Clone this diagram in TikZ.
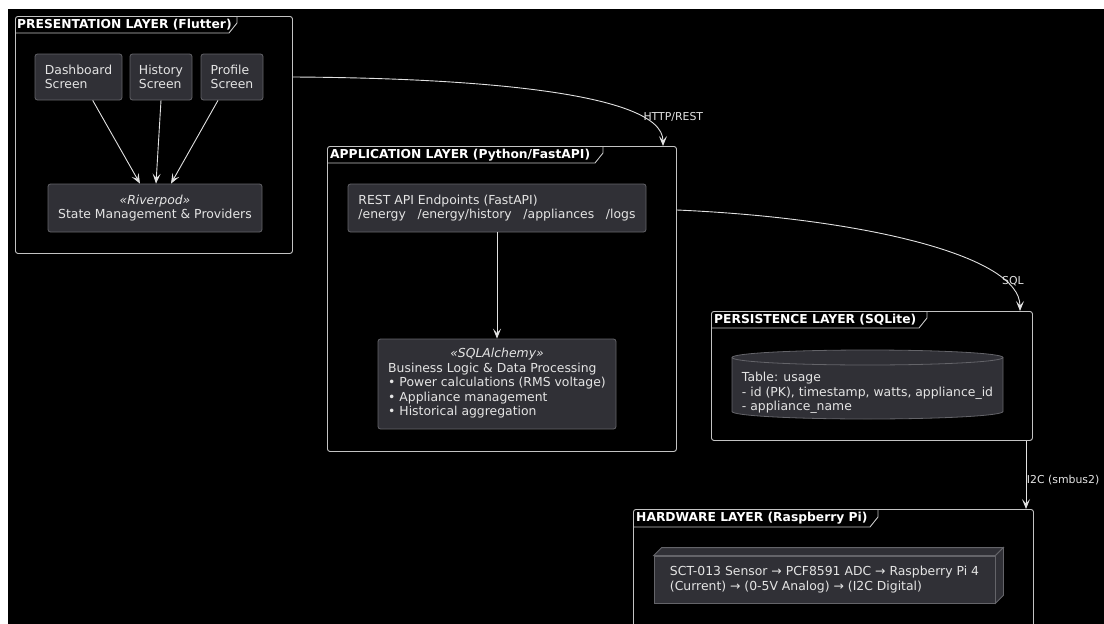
\documentclass[tikz,border=0pt]{standalone}
\usepackage{fontspec}
\setmainfont{DejaVu Sans}
\usetikzlibrary{arrows.meta,calc}
\definecolor{boxfill}{RGB}{48,48,54}
\definecolor{boxline}{RGB}{100,100,105}
\definecolor{frameline}{RGB}{195,195,195}
\definecolor{txt}{RGB}{228,228,228}
\definecolor{edge}{RGB}{225,225,225}
\begin{document}
\begin{tikzpicture}[x=1pt,y=-1pt,
  base/.style={font=\fontsize{12.4}{14.5}\selectfont, text=txt},
  comp/.style={base, draw=boxline, fill=boxfill, rounded corners=2.5pt, line width=0.8pt, inner sep=0pt, align=left},
  frame/.style={draw=frameline, rounded corners=2.5pt, line width=0.9pt, anchor=north west, inner sep=0pt},
  tab/.style={draw=frameline, line width=0.9pt},
  ftitle/.style={font=\bfseries\fontsize{12.3}{14.5}\selectfont, text=white, anchor=west, inner sep=0pt},
  link/.style={draw=edge, line width=0.9pt, -{Stealth[length=10pt,width=8pt,inset=4.5pt]}},
  elabel/.style={font=\fontsize{10.9}{13}\selectfont, text=txt, inner sep=0pt, anchor=west},
  solid3d/.style={fill=boxfill, draw=boxline, line width=0.8pt}
]
\clip (0,0) rectangle (1104,624);
\fill[white] (0,0) rectangle (1104,624);
\fill[black] (8,9) rectangle (1104,624);

% frames
\node[frame, minimum width=277, minimum height=237] (pres) at (15,16) {};
\draw[tab] (15,33) -- (229,33) -- (237,23) -- (237,16);
\node[ftitle] (presT) at (17,24.5) {PRESENTATION LAYER (Flutter)};

\node[frame, minimum width=349, minimum height=305] (app) at (327,146) {};
\draw[tab] (327,163) -- (595,163) -- (603,153) -- (603,146);
\node[ftitle] (appT) at (330,155) {APPLICATION LAYER (Python/FastAPI)};

\node[frame, minimum width=321, minimum height=129] (pers) at (711,311) {};
\draw[tab] (711,328) -- (919,328) -- (927,318) -- (927,311);
\node[ftitle] (persT) at (714,320) {PERSISTENCE LAYER (SQLite)};

\node[frame, minimum width=400, minimum height=140] (hw) at (633,509) {};
\draw[tab] (633,527) -- (870,527) -- (878,517) -- (878,509);
\node[ftitle] (hwT) at (636,518) {HARDWARE LAYER (Raspberry Pi)};

% presentation components
\node[comp, minimum width=87, minimum height=46] (dash) at (78.5,77) {Dashboard\\Screen};
\node[comp, minimum width=62, minimum height=46] (hist) at (161,77) {History\\Screen};
\node[comp, minimum width=62, minimum height=46] (prof) at (232,77) {Profile\\Screen};
\node[comp, align=center, minimum width=214, minimum height=48] (state) at (155,208) {{\itshape «Riverpod»}\\State Management \& Providers};

\draw[link] ($(dash.south)+(14.2,0)$) -- ($(state.north)+(-15,0)$);
\draw[link] (hist.south) -- ($(state.north)+(1,0)$);
\draw[link] ($(prof.south)+(-14,0)$) -- ($(state.north)+(16,0)$);

% application components
\node[comp, minimum width=298, minimum height=48] (rest) at (497,208) {REST API Endpoints (FastAPI)\\/energy\hspace{11.7pt}/energy/history\hspace{11.7pt}/appliances\hspace{11.7pt}/logs};
\node[comp, minimum width=238, minimum height=90] (biz) at (497,384) {\begin{tabular}{@{}l@{}}\multicolumn{1}{@{}c@{}}{\itshape «SQLAlchemy»}\\Business Logic \& Data Processing\\• Power calculations (RMS voltage)\\• Appliance management\\• Historical aggregation\end{tabular}};
\draw[link] (rest.south) -- (biz.north);

% persistence: database cylinder
\filldraw[solid3d] (732,357.5) -- (732,411.5) arc[start angle=180, end angle=360, x radius=135.5pt, y radius=7.5pt] -- (1003,357.5) arc[start angle=0, end angle=180, x radius=135.5pt, y radius=7.5pt] -- cycle;
\draw[boxline, line width=0.8pt] (732,357.5) arc[start angle=180, end angle=360, x radius=135.5pt, y radius=7.5pt];
\node[base, align=left, inner sep=0pt] (db) at (867.5,393) {Table: usage\\- id (PK), timestamp, watts, appliance\_id\\- appliance\_name};

% hardware: 3D node
\node[comp, rounded corners=0pt, minimum width=341, minimum height=47] (sensor) at (824.5,579.5) {SCT-013 Sensor → PCF8591 ADC → Raspberry Pi 4\\(Current) → (0-5V Analog) → (I2C Digital)};
\filldraw[solid3d] (sensor.north west) -- ++(8,-8) -- ($(sensor.north east)+(8,-8)$) -- (sensor.north east) -- cycle;
\filldraw[solid3d] (sensor.north east) -- ++(8,-8) -- ($(sensor.south east)+(8,-8)$) -- (sensor.south east) -- cycle;

% inter-layer links
\coordinate (httpS) at ($(pres.north east)+(0,61)$);
\coordinate (httpE) at ($(app.north west)+(336,0)$);
\draw[link] (httpS) .. controls (470,78) and (663,92) .. (httpE);
\node[elabel] (lhttp) at (643.3,117) {HTTP/REST};

\coordinate (sqlS) at ($(app.north east)+(0,64)$);
\coordinate (sqlE) at ($(pers.north west)+(309,0)$);
\draw[link] (sqlS) .. controls (860,218) and (1020,255) .. (sqlE);
\node[elabel] (lsql) at (1002,281.5) {SQL};

\coordinate (i2cS) at ($(pers.south west)+(315,0)$);
\coordinate (i2cE) at ($(hw.north west)+(393,0)$);
\draw[link] (i2cS) -- (i2cE);
\node[elabel] (li2c) at (1026.7,480) {I2C (smbus2)};
\end{tikzpicture}
\end{document}
